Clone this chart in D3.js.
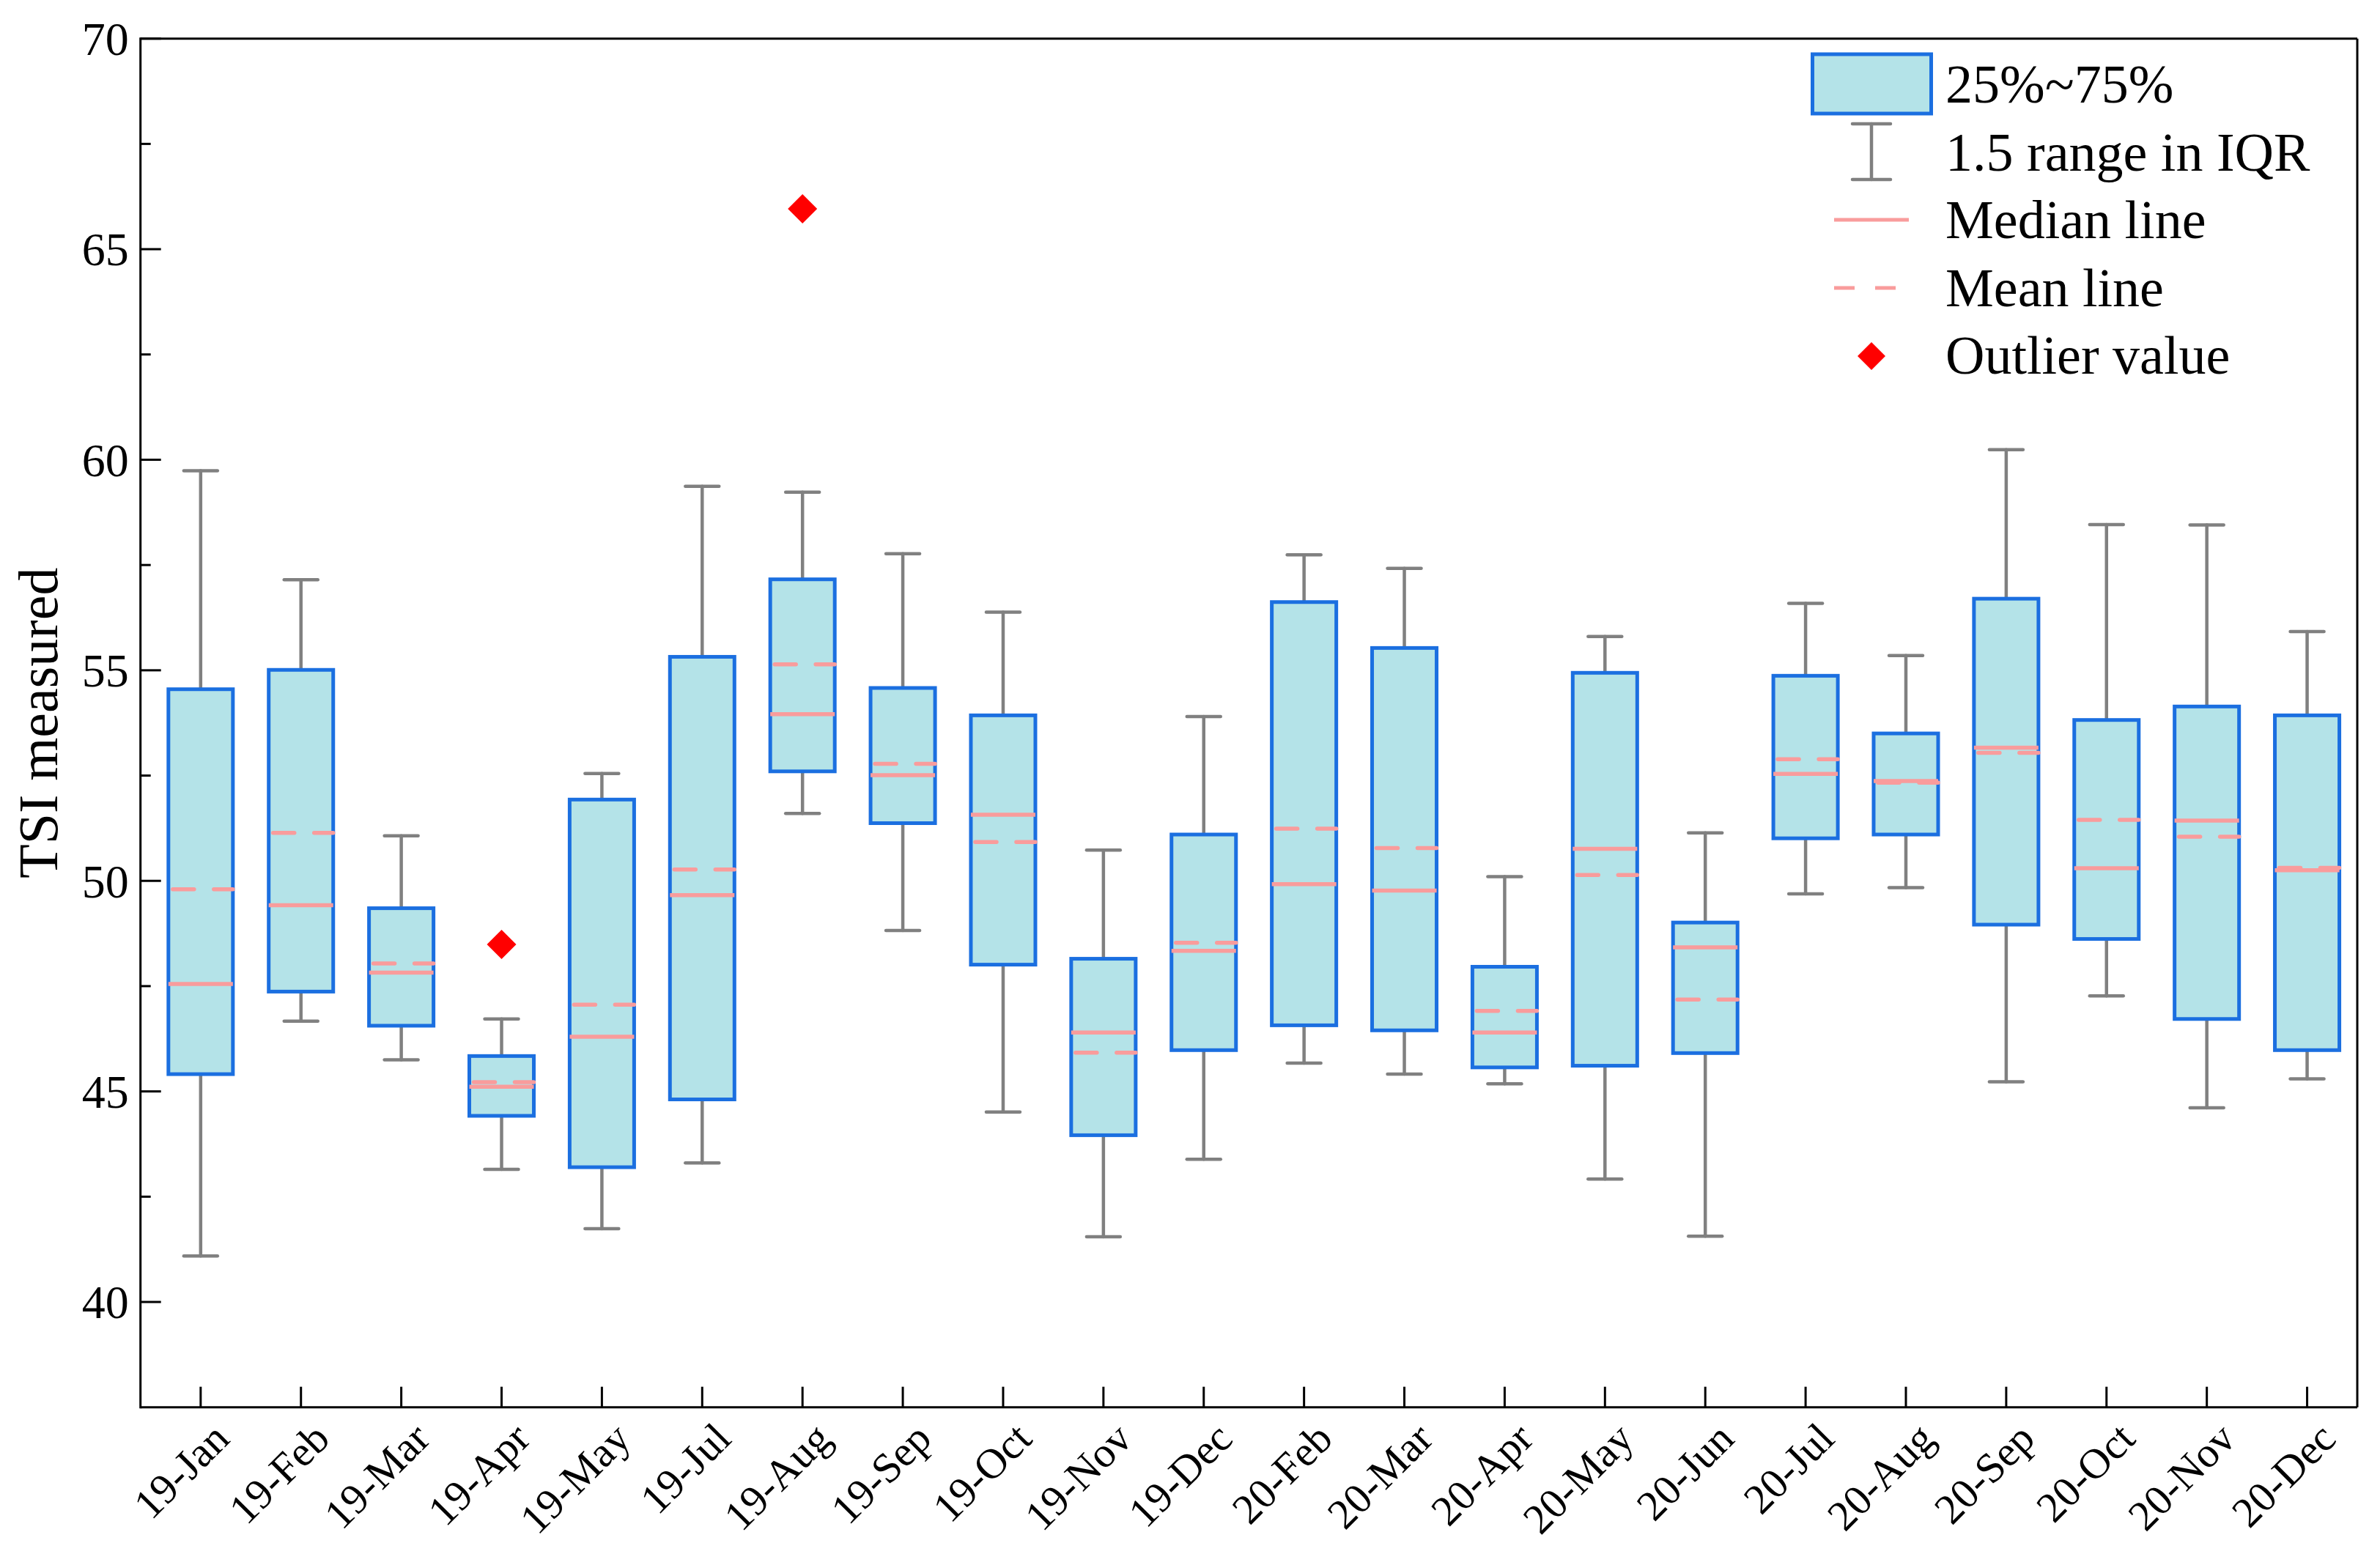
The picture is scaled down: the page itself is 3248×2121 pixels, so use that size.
<!DOCTYPE html>
<html>
<head>
<meta charset="utf-8">
<script src="https://cdn.jsdelivr.net/npm/d3@7"></script>
<style>
  html, body { margin: 0; padding: 0; background: #ffffff; }
  svg { display: block; }
</style>
</head>
<body>
<svg id="chart" width="3248" height="2121"></svg>
<script>
// ---------------- data ----------------
const categories = ["19-Jan","19-Feb","19-Mar","19-Apr","19-May","19-Jul","19-Aug","19-Sep","19-Oct","19-Nov","19-Dec",
                    "20-Feb","20-Mar","20-Apr","20-May","20-Jun","20-Jul","20-Aug","20-Sep","20-Oct","20-Nov","20-Dec"];
const whiskerLow  = [41.09,46.67,45.75,43.15,41.74,43.30,51.60,48.82,44.51,41.55,43.39,45.67,45.41,45.18,42.92,41.56,49.69,49.84,45.23,47.27,44.61,45.30];
const q1          = [45.41,47.37,46.56,44.42,43.20,44.81,52.60,51.37,48.01,43.96,45.98,46.57,46.45,45.57,45.61,45.91,51.01,51.10,48.96,48.62,46.72,45.98];
const medians     = [47.55,49.42,47.82,45.11,46.30,49.66,53.96,52.51,51.57,46.40,48.34,49.92,49.77,46.40,50.76,48.42,52.54,52.37,53.16,50.30,51.43,50.25];
const means       = [49.80,51.14,48.04,45.22,47.06,50.27,55.14,52.78,50.92,45.92,48.53,51.24,50.78,46.91,50.14,47.18,52.89,52.33,53.04,51.45,51.05,50.31];
const q3          = [54.55,55.01,49.35,45.84,51.93,55.32,57.16,54.58,53.93,48.15,51.10,56.62,55.53,47.96,54.94,49.01,54.87,53.50,56.70,53.82,54.14,53.93];
const whiskerHigh = [59.74,57.15,51.07,46.72,52.55,59.37,59.23,57.77,56.38,50.73,53.90,57.74,57.42,50.10,55.80,51.14,56.59,55.35,60.24,58.46,58.45,55.92];
const outlierCats   = ["19-Apr","19-Aug"];
const outlierValues = [48.49,65.96];
const yMajorTicks = [40,45,50,55,60,65,70];
const yMinorTicks = [42.5,47.5,52.5,57.5,62.5,67.5];
const legendLabels = ["25%~75%","1.5 range in IQR","Median line","Mean line","Outlier value"];
const yTitle = "TSI measured";

// ---------------- style ----------------
const C = {
  fill: "#b4e3e8", stroke: "#1b6fe0", whisker: "#808080",
  med: "#f99c9c", outlier: "#ff0000", axis: "#000000"
};
const FONT = "'Liberation Serif', 'Times New Roman', serif";

const pL = 191.7, pR = 3217, pT = 52.7, pB = 1920.7;

const svg = d3.select("#chart");
svg.append("rect").attr("width", 3248).attr("height", 2121).attr("fill", "#fff");

const x = d3.scaleLinear().domain([-0.6, 21.5]).range([pL, pR]);
const y = d3.scaleLinear().domain([37.5, 70]).range([pB, pT]);
const idx = c => categories.indexOf(c);

const boxW = x(0.643) - x(0);
const capW = x(0.336) - x(0);

const rows = categories.map((c, i) => ({
  c, i, lo: whiskerLow[i], q1: q1[i], med: medians[i], mean: means[i], q3: q3[i], hi: whiskerHigh[i]
}));

const g = svg.append("g");

// whiskers
const wg = g.append("g").attr("stroke", C.whisker).attr("stroke-width", 4.5).attr("stroke-linecap", "round");
wg.selectAll("line.wu").data(rows).join("line").attr("class","wu")
  .attr("x1", d => x(d.i)).attr("x2", d => x(d.i))
  .attr("y1", d => y(d.q3)).attr("y2", d => y(d.hi));
wg.selectAll("line.wl").data(rows).join("line").attr("class","wl")
  .attr("x1", d => x(d.i)).attr("x2", d => x(d.i))
  .attr("y1", d => y(d.q1)).attr("y2", d => y(d.lo));
wg.selectAll("line.ch").data(rows).join("line").attr("class","ch")
  .attr("x1", d => x(d.i) - capW/2).attr("x2", d => x(d.i) + capW/2)
  .attr("y1", d => y(d.hi)).attr("y2", d => y(d.hi));
wg.selectAll("line.cl").data(rows).join("line").attr("class","cl")
  .attr("x1", d => x(d.i) - capW/2).attr("x2", d => x(d.i) + capW/2)
  .attr("y1", d => y(d.lo)).attr("y2", d => y(d.lo));

// boxes
g.append("g").selectAll("rect").data(rows).join("rect")
  .attr("x", d => x(d.i) - boxW/2).attr("width", boxW)
  .attr("y", d => y(d.q3)).attr("height", d => y(d.q1) - y(d.q3))
  .attr("fill", C.fill).attr("stroke", C.stroke).attr("stroke-width", 5);

// medians
g.append("g").selectAll("line").data(rows).join("line")
  .attr("x1", d => x(d.i) - boxW/2).attr("x2", d => x(d.i) + boxW/2)
  .attr("y1", d => y(d.med)).attr("y2", d => y(d.med))
  .attr("stroke", C.med).attr("stroke-width", 5.5);

// means (dashed)
g.append("g").selectAll("line").data(rows).join("line")
  .attr("x1", d => x(d.i) - boxW/2 + 6).attr("x2", d => x(d.i) + boxW/2)
  .attr("y1", d => y(d.mean)).attr("y2", d => y(d.mean))
  .attr("stroke", C.med).attr("stroke-width", 5.5)
  .attr("stroke-dasharray", "29,27").attr("stroke-linecap", "round");

// outliers
const diamond = d3.symbol().type(d3.symbolSquare).size(800);
g.append("g").selectAll("path").data(outlierCats.map((c, k) => ({ i: idx(c), v: outlierValues[k] }))).join("path")
  .attr("d", diamond)
  .attr("transform", d => `translate(${x(d.i)},${y(d.v)}) rotate(45)`)
  .attr("fill", C.outlier);

// ---------------- axes / frame ----------------
const ax = svg.append("g").attr("stroke", C.axis).attr("stroke-width", 3);
ax.append("line").attr("x1", pL).attr("x2", pR).attr("y1", pT).attr("y2", pT);
ax.append("line").attr("x1", pR).attr("x2", pR).attr("y1", pT).attr("y2", pB);
ax.append("line").attr("x1", pL).attr("x2", pL).attr("y1", pT - 1.5).attr("y2", pB + 1.5);
ax.append("line").attr("x1", pL).attr("x2", pR).attr("y1", pB).attr("y2", pB);

// y ticks (inward)
ax.selectAll("line.ymaj").data(yMajorTicks).join("line").attr("class","ymaj")
  .attr("x1", pL).attr("x2", pL + 28).attr("y1", d => y(d)).attr("y2", d => y(d));
ax.selectAll("line.ymin").data(yMinorTicks).join("line").attr("class","ymin")
  .attr("x1", pL).attr("x2", pL + 14).attr("y1", d => y(d)).attr("y2", d => y(d));
// x ticks (inward)
ax.selectAll("line.xt").data(rows).join("line").attr("class","xt")
  .attr("x1", d => x(d.i)).attr("x2", d => x(d.i)).attr("y1", pB).attr("y2", pB - 28);

// y tick labels
svg.append("g").selectAll("text").data(yMajorTicks).join("text")
  .attr("x", pL - 16).attr("y", d => y(d)).attr("dy", "0.35em")
  .attr("text-anchor", "end").attr("font-family", FONT).attr("font-size", 64)
  .attr("fill", "#000").text(d => d);

// x tick labels
svg.append("g").selectAll("text").data(rows).join("text")
  .attr("transform", d => `translate(${x(d.i) + 42},${pB + 46}) rotate(-45)`)
  .attr("text-anchor", "end").attr("font-family", FONT).attr("font-size", 58)
  .attr("fill", "#000").text(d => d.c);

// y title
svg.append("text")
  .attr("transform", `translate(78,${(pT + pB) / 2}) rotate(-90)`)
  .attr("text-anchor", "middle").attr("font-family", FONT).attr("font-size", 76)
  .attr("fill", "#000").text(yTitle);

// ---------------- legend ----------------
const lg = svg.append("g");
const lx = 2554, ltx = 2655, lb0 = 140, lstep = 92.6;
lg.selectAll("text").data(legendLabels).join("text")
  .attr("x", ltx).attr("y", (d, i) => lb0 + i * lstep)
  .attr("font-family", FONT).attr("font-size", 74).attr("fill", "#000").text(d => d);
// box swatch
lg.append("rect").attr("x", 2473.5).attr("y", 74).attr("width", 162).attr("height", 81)
  .attr("fill", C.fill).attr("stroke", C.stroke).attr("stroke-width", 5);
// whisker swatch
const lw = lg.append("g").attr("stroke", C.whisker).attr("stroke-width", 4.5).attr("stroke-linecap", "round");
lw.append("line").attr("x1", lx).attr("x2", lx).attr("y1", 169).attr("y2", 245);
lw.append("line").attr("x1", lx - 26).attr("x2", lx + 26).attr("y1", 169).attr("y2", 169);
lw.append("line").attr("x1", lx - 26).attr("x2", lx + 26).attr("y1", 245).attr("y2", 245);
// median swatch
lg.append("line").attr("x1", 2503).attr("x2", 2605).attr("y1", 300).attr("y2", 300)
  .attr("stroke", C.med).attr("stroke-width", 5);
// mean swatch
lg.append("line").attr("x1", 2503).attr("x2", 2587).attr("y1", 393).attr("y2", 393)
  .attr("stroke", C.med).attr("stroke-width", 5).attr("stroke-dasharray", "28,28");
// outlier swatch
lg.append("path").attr("d", d3.symbol().type(d3.symbolSquare).size(720))
  .attr("transform", `translate(${lx},486) rotate(45)`).attr("fill", C.outlier);
</script>
</body>
</html>
